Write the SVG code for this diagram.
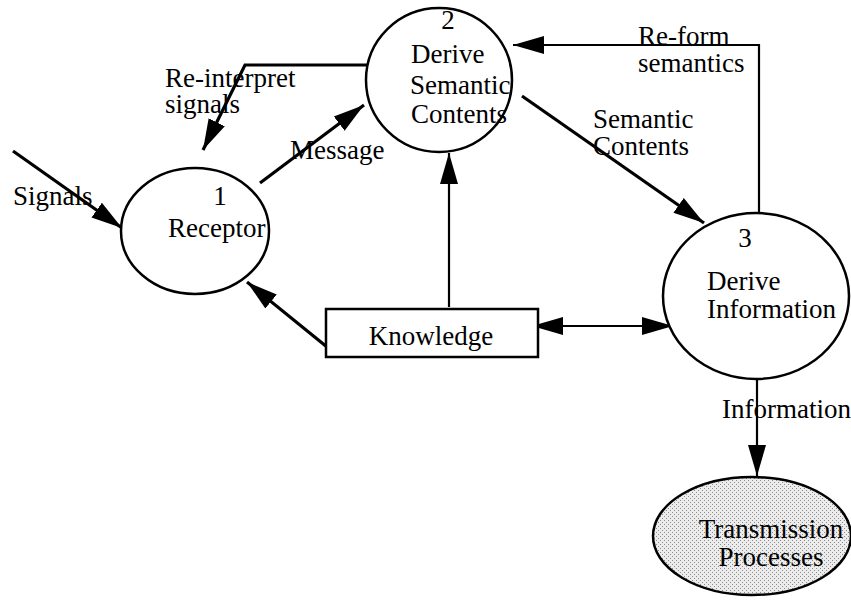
<svg xmlns="http://www.w3.org/2000/svg" width="851" height="605" viewBox="0 0 851 605">
<style>
text{font-family:"Liberation Serif","Times New Roman","DejaVu Serif",serif;font-size:27px;fill:#000}
.node{fill:#fff;stroke:#000;stroke-width:2.5}
.c{text-anchor:middle}
.thick{fill:none;stroke:#000;stroke-width:3.2}
.thin{fill:none;stroke:#000;stroke-width:2.2}
</style>
<defs>
<marker id="ah" markerUnits="userSpaceOnUse" markerWidth="32" markerHeight="20" refX="31" refY="10" orient="auto-start-reverse">
<path d="M0,1 L31,10 L0,19 z" fill="#000"/>
</marker>
<pattern id="dots" width="4" height="4" patternUnits="userSpaceOnUse">
<rect width="4" height="4" fill="#ececec"/>
<rect x="0" y="0" width="1" height="1" fill="#8a8a8a"/>
<rect x="2" y="2" width="1" height="1" fill="#8a8a8a"/>
</pattern>
</defs>
<rect width="851" height="605" fill="#fff"/>

<g id="connectors" font-family="Liberation Serif, serif">
<line class="thick" x1="13" y1="151" x2="122" y2="228" marker-end="url(#ah)"/>
<line class="thick" x1="260" y1="183" x2="364" y2="105" marker-end="url(#ah)"/>
<polyline class="thick" points="370,65 245,65 203,150" marker-end="url(#ah)"/>
<line class="thin" x1="449" y1="307" x2="449" y2="153" marker-end="url(#ah)"/>
<line class="thick" x1="327" y1="347" x2="247" y2="282" marker-end="url(#ah)"/>
<line class="thin" x1="532" y1="326" x2="673" y2="326" marker-start="url(#ah)" marker-end="url(#ah)"/>
<line class="thick" x1="522" y1="96" x2="704" y2="223" marker-end="url(#ah)"/>
<polyline class="thin" points="759,219 759,45 513,45" marker-end="url(#ah)"/>
<line class="thin" x1="757" y1="375" x2="757" y2="476" marker-end="url(#ah)"/>
<text x="13" y="205">Signals</text>
<text x="290" y="159">Message</text>
<text x="165" y="87">Re-interpret</text>
<text x="165" y="113">signals</text>
<text x="593" y="128">Semantic</text>
<text x="593" y="155">Contents</text>
<text x="638" y="45">Re-form</text>
<text x="638" y="72">semantics</text>
<text x="722" y="418">Information</text>
</g>

<g id="receptor">
<ellipse class="node" cx="195" cy="231" rx="74" ry="63"/>
<text class="c" x="220" y="205">1</text>
<text x="168" y="237">Receptor</text>
</g>

<g id="derive-semantic">
<ellipse class="node" cx="439" cy="80" rx="73" ry="72"/>
<text class="c" x="448" y="29">2</text>
<text x="411" y="63">Derive</text>
<text x="410" y="94">Semantic</text>
<text x="411" y="123">Contents</text>
</g>

<g id="derive-information">
<ellipse class="node" cx="756" cy="296" rx="93" ry="83"/>
<text class="c" x="745" y="247">3</text>
<text x="707" y="290">Derive</text>
<text x="707" y="318">Information</text>
</g>

<g id="knowledge">
<rect class="node" x="326" y="309" width="212" height="48"/>
<text class="c" x="431" y="345">Knowledge</text>
</g>

<g id="transmission">
<ellipse cx="752" cy="536" rx="99" ry="59" fill="url(#dots)" stroke="#000" stroke-width="2.5"/>
<text class="c" x="771" y="538">Transmission</text>
<text class="c" x="771" y="566">Processes</text>
</g>
</svg>
